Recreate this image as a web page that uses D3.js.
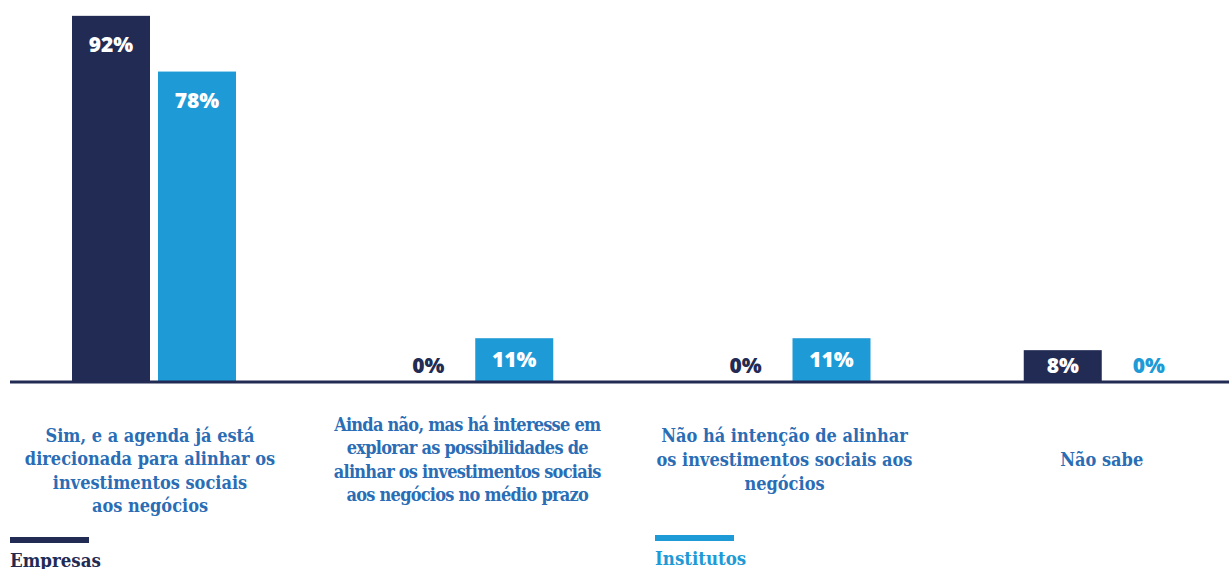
<!DOCTYPE html>
<html><head><meta charset="utf-8">
<script src="https://cdn.jsdelivr.net/npm/d3@7"></script>
<style>body{margin:0;background:#fff}svg{display:block}</style>
</head><body><svg id="c" width="1229" height="569"></svg>
<script>
const categories = ["Sim", "Ainda não", "Não há intenção", "Não sabe"];
const categoryLines = [
  ["Sim, e a agenda já está", "direcionada para alinhar os", "investimentos sociais", "aos negócios"],
  ["Ainda não, mas há interesse em", "explorar as possibilidades de", "alinhar os investimentos sociais", "aos negócios no médio prazo"],
  ["Não há intenção de alinhar", "os investimentos sociais aos", "negócios"],
  ["Não sabe"]
];
const seriesNames = ["Empresas", "Institutos"];
const empresas = [92, 0, 0, 8];
const institutos = [78, 11, 11, 0];
const colors = ["#222b54", "#1e9ad6"];

const svg = d3.select("#c");
const baseY = 382;
const x0 = d3.scaleBand().domain(categories).range([72, 1341]).paddingInner(0).paddingOuter(0);
const x1 = d3.scaleBand().domain(seriesNames).range([0, 164]).paddingInner(0.093);
const y = d3.scaleLinear().domain([0, 100]).range([baseY, baseY - 398]);

const data = categories.map((c, i) => ({c, vals: [empresas[i], institutos[i]]}));
const valFont = "'Open Sans', Lato, sans-serif";
const labFont = "'DejaVu Serif Condensed', 'DejaVu Serif', serif";

const g = svg.selectAll("g.grp").data(data).join("g").attr("class", "grp")
  .attr("transform", d => `translate(${x0(d.c)},0)`);

g.selectAll("rect").data(d => d.vals.map((v, k) => ({v, k}))).join("rect")
  .attr("x", d => x1(seriesNames[d.k]))
  .attr("width", x1.bandwidth())
  .attr("y", d => y(d.v))
  .attr("height", d => baseY - y(d.v))
  .attr("fill", d => colors[d.k]);

g.selectAll("text.val").data(d => d.vals.map((v, k) => ({v, k}))).join("text")
  .attr("class", "val")
  .attr("x", d => x1(seriesNames[d.k]) + x1.bandwidth() / 2)
  .attr("y", d => {
    const top = y(d.v), h = baseY - top;
    if (d.v === 0) return baseY - 9;
    if (h > 60) return top + 36;
    return (top + baseY) / 2 + 7;
  })
  .attr("text-anchor", "middle")
  .attr("font-family", valFont)
  .attr("font-weight", 800)
  .attr("font-size", 21)
  .attr("fill", d => d.v === 0 ? colors[d.k] : "#fff")
  .text(d => d.v + "%");

// baseline
svg.append("line").attr("x1", 10).attr("x2", 1229).attr("y1", baseY).attr("y2", baseY)
  .attr("stroke", "#222b54").attr("stroke-width", 3);

// category labels
const lh = 23.6;
const labelShift = [11, 0, 0, 0];
const labelSpacing = [0, -0.75, 0, 0];
data.forEach((d, i) => {
  const lines = categoryLines[i];
  const cx = x0(d.c) + 78;
  const mid = 460 + labelShift[i];
  const top = mid - (lines.length - 1) * lh / 2;
  const t = svg.append("text")
    .attr("text-anchor", "middle")
    .attr("font-family", labFont)
    .attr("font-weight", "bold")
    .attr("font-size", 18)
    .attr("letter-spacing", labelSpacing[i])
    .attr("fill", "#2a6db5");
  lines.forEach((l, j) => t.append("tspan").attr("x", cx).attr("y", top + j * lh + 6).text(l));
});

// legend
const leg = [{n: "Empresas", x: 10}, {n: "Institutos", x: 655}];
leg.forEach((l, k) => {
  svg.append("rect").attr("x", l.x).attr("y", 537 - k * 2).attr("width", 79).attr("height", 6).attr("fill", colors[k]);
  svg.append("text").attr("x", l.x).attr("y", 567 - k * 2)
    .attr("font-family", labFont).attr("font-weight", "bold").attr("font-size", 18.5)
    .attr("fill", colors[k]).text(l.n);
});
</script></body></html>
